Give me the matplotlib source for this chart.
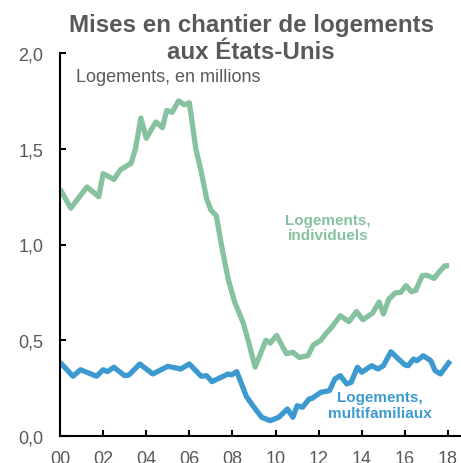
import matplotlib
matplotlib.use("Agg")
import matplotlib.pyplot as plt

plt.rcParams['font.family'] = ['Liberation Sans', 'DejaVu Sans']

# Single-family housing starts (millions)
green_years = [2000.0, 2000.5, 2001.25, 2001.8, 2002.0, 2002.5, 2002.8, 2003.3, 2003.5, 2003.75,
               2004.0, 2004.45, 2004.75, 2004.95, 2005.2, 2005.5, 2005.75, 2006.0, 2006.3, 2006.55,
               2006.8, 2007.0, 2007.25, 2007.5, 2007.8, 2008.1, 2008.5, 2008.75, 2009.05, 2009.55,
               2009.75, 2010.05, 2010.5, 2010.8, 2011.1, 2011.5, 2011.75, 2012.1, 2012.3, 2012.6,
               2013.0, 2013.4, 2013.75, 2014.05, 2014.5, 2014.8, 2015.0, 2015.25, 2015.55, 2015.8,
               2016.05, 2016.3, 2016.5, 2016.8, 2017.0, 2017.35, 2017.6, 2017.85, 2018.05]
green_vals = [1.29, 1.19, 1.30, 1.25, 1.37, 1.34, 1.39, 1.425, 1.50, 1.66,
              1.555, 1.64, 1.61, 1.70, 1.69, 1.75, 1.73, 1.74, 1.50, 1.38,
              1.24, 1.18, 1.15, 0.99, 0.82, 0.70, 0.59, 0.49, 0.36, 0.50,
              0.485, 0.525, 0.43, 0.437, 0.41, 0.42, 0.475, 0.50, 0.53, 0.568,
              0.628, 0.597, 0.65, 0.607, 0.642, 0.70, 0.637, 0.715, 0.747, 0.75,
              0.785, 0.754, 0.76, 0.837, 0.84, 0.823, 0.858, 0.889, 0.889]

# Multifamily housing starts (millions)
blue_years = [2000.0, 2000.6, 2000.95, 2001.7, 2002.0, 2002.2, 2002.5, 2003.0, 2003.2, 2003.7,
              2004.3, 2005.0, 2005.6, 2006.0, 2006.55, 2006.8, 2007.05, 2007.8, 2007.95, 2008.2,
              2008.65, 2008.95, 2009.35, 2009.75, 2010.15, 2010.55, 2010.8, 2011.0, 2011.25, 2011.55,
              2011.7, 2012.1, 2012.5, 2012.75, 2013.0, 2013.3, 2013.5, 2013.8, 2014.0, 2014.45,
              2014.75, 2015.0, 2015.35, 2015.7, 2016.0, 2016.15, 2016.4, 2016.55, 2016.85, 2017.2,
              2017.4, 2017.65, 2018.1]
blue_vals = [0.385, 0.312, 0.346, 0.312, 0.346, 0.336, 0.359, 0.315, 0.319, 0.376,
             0.324, 0.364, 0.35, 0.376, 0.312, 0.315, 0.284, 0.324, 0.319, 0.336,
             0.205, 0.158, 0.098, 0.08, 0.098, 0.141, 0.098, 0.158, 0.15, 0.193,
             0.197, 0.228, 0.237, 0.298, 0.315, 0.272, 0.28, 0.359, 0.333, 0.367,
             0.35, 0.367, 0.44, 0.402, 0.371, 0.367, 0.402, 0.393, 0.419, 0.393,
             0.341, 0.324, 0.393]

x_ticks = [2000, 2002, 2004, 2006, 2008, 2010, 2012, 2014, 2016, 2018]
x_labels = ["00", "02", "04", "06", "08", "10", "12", "14", "16", "18"]
y_ticks = [0.0, 0.5, 1.0, 1.5, 2.0]
y_labels = ["0,0", "0,5", "1,0", "1,5", "2,0"]

GREEN = "#86c29f"
BLUE = "#3d9ad0"
GRAY = "#595959"

W, H = 461, 464
fig = plt.figure(figsize=(W / 100, H / 100), dpi=100)
ax = fig.add_axes([60 / W, 27 / H, 401 / W, 383 / H])

ax.plot(green_years, green_vals, color=GREEN, lw=3.8, solid_joinstyle='round', solid_capstyle='butt')
ax.plot(blue_years, blue_vals, color=BLUE, lw=3.8, solid_joinstyle='round', solid_capstyle='butt')

ax.set_xlim(2000, 2018.6)
ax.set_ylim(0, 2.0)
ax.set_xticks(x_ticks)
ax.set_xticklabels(x_labels)
ax.set_yticks(y_ticks)
ax.set_yticklabels(y_labels)

for s in ['top', 'right']:
    ax.spines[s].set_visible(False)
for s in ['left', 'bottom']:
    ax.spines[s].set_linewidth(1.5)
    ax.spines[s].set_color('black')

ax.tick_params(axis='x', direction='in', length=4, width=1.5, pad=10, labelsize=13, labelcolor=GRAY)
ax.tick_params(axis='y', direction='in', length=4.3, width=1.5, pad=12, labelsize=13, labelcolor=GRAY)

fig.text(251 / W, 1 - 32 / H, "Mises en chantier de logements", ha='center', va='baseline',
         fontsize=17.4, fontweight='bold', color=GRAY)
fig.text(251 / W, 1 - 59 / H, "aux États-Unis", ha='center', va='baseline',
         fontsize=17.4, fontweight='bold', color=GRAY)
fig.text(76 / W, 1 - 82 / H, "Logements, en millions", ha='left', va='baseline',
         fontsize=13, color=GRAY)

ax.text(2012.43, 1.088, "Logements,\nindividuels", ha='center', va='center',
        fontsize=11, fontweight='bold', color=GREEN, linespacing=1.05)
ax.text(2014.83, 0.162, "Logements,\nmultifamiliaux", ha='center', va='center',
        fontsize=11, fontweight='bold', color=BLUE, linespacing=1.1)

fig.savefig("out.png", dpi=100)
